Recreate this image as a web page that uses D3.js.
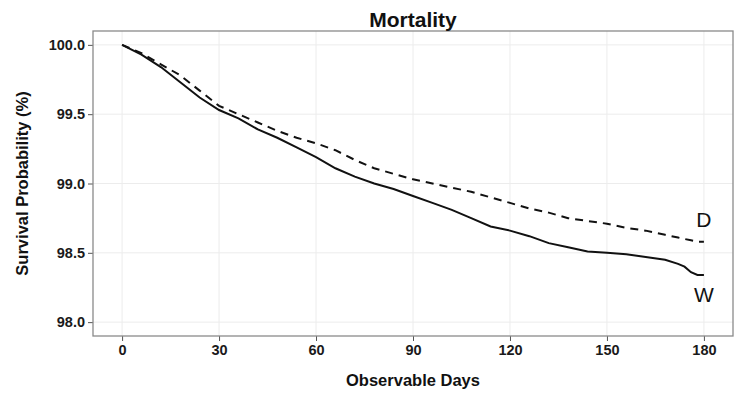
<!DOCTYPE html>
<html>
<head>
<meta charset="utf-8">
<script src="https://cdn.jsdelivr.net/npm/d3@7"></script>
<style>
  body { margin: 0; background: #fff; }
  svg { display: block; font-family: "Liberation Sans", Arial, sans-serif; }
</style>
</head>
<body>
<svg width="734" height="393"></svg>
<script>
// data
var days = [0, 6, 12, 18, 24, 30, 36, 42, 48, 54, 60, 66, 72, 78, 84, 90, 96, 102, 108,
            114, 120, 126, 132, 138, 144, 150, 156, 162, 168, 172, 174, 176, 178, 180];
var survW = [100.00, 99.93, 99.84, 99.73, 99.62, 99.53, 99.47, 99.39, 99.33, 99.26, 99.19,
             99.11, 99.05, 99.00, 98.96, 98.91, 98.86, 98.81, 98.75, 98.69, 98.66, 98.62,
             98.57, 98.54, 98.51, 98.50, 98.49, 98.47, 98.45, 98.42, 98.40, 98.36, 98.34, 98.34];
var survD = [100.00, 99.94, 99.86, 99.78, 99.67, 99.56, 99.50, 99.44, 99.38, 99.33, 99.29,
             99.24, 99.17, 99.11, 99.07, 99.03, 99.00, 98.97, 98.94, 98.90, 98.86, 98.82,
             98.79, 98.75, 98.73, 98.71, 98.68, 98.66, 98.63, 98.61, 98.60, 98.59, 98.58, 98.58];
var xTicks = [0, 30, 60, 90, 120, 150, 180];
var yTicks = [98.0, 98.5, 99.0, 99.5, 100.0];

var svg = d3.select("svg");
var margin = {top: 31, right: 1, bottom: 57, left: 93};
var width = +svg.attr("width") - margin.left - margin.right;
var height = +svg.attr("height") - margin.top - margin.bottom;

var g = svg.append("g")
  .attr("transform", "translate(" + margin.left + "," + margin.top + ")");

var x = d3.scaleLinear().domain([-9, 189]).range([0, width]);
var y = d3.scaleLinear().domain([97.9, 100.1]).range([height, 0]);

// grid
g.selectAll(".vgrid").data(xTicks).enter().append("line")
  .attr("x1", function(d) { return x(d); }).attr("x2", function(d) { return x(d); })
  .attr("y1", 0).attr("y2", height)
  .style("stroke", "#ececec").style("stroke-width", 1);
g.selectAll(".hgrid").data(yTicks).enter().append("line")
  .attr("y1", function(d) { return y(d); }).attr("y2", function(d) { return y(d); })
  .attr("x1", 0).attr("x2", width)
  .style("stroke", "#ececec").style("stroke-width", 1);

// axes
var xAxis = g.append("g")
  .attr("transform", "translate(0," + height + ")")
  .call(d3.axisBottom(x).tickValues(xTicks).tickSize(5).tickPadding(4).tickFormat(d3.format("d")));
var yAxis = g.append("g")
  .call(d3.axisLeft(y).tickValues(yTicks).tickSize(5).tickPadding(3).tickFormat(d3.format(".1f")));

[xAxis, yAxis].forEach(function(a) {
  a.select(".domain").remove();
  a.selectAll(".tick line").style("stroke", "#555");
  a.selectAll(".tick text")
    .style("font-size", "14.5px").style("font-weight", "bold")
    .style("fill", "#1a1a1a").style("font-family", "'Liberation Sans', Arial, sans-serif");
});

// panel border
g.append("rect")
  .attr("width", width).attr("height", height)
  .style("fill", "none").style("stroke", "#8a8a8a").style("stroke-width", 1.3);

var line = function(vals) {
  return d3.line()
    .x(function(d, i) { return x(days[i]); })
    .y(function(d) { return y(d); })(vals);
};

g.append("path")
  .attr("d", line(survD))
  .style("fill", "none").style("stroke", "#111").style("stroke-width", 2)
  .style("stroke-dasharray", "8,6");

g.append("path")
  .attr("d", line(survW))
  .style("fill", "none").style("stroke", "#111").style("stroke-width", 2);

// series labels
g.append("text")
  .attr("x", x(180)).attr("y", y(survD[survD.length - 1]) - 15)
  .attr("text-anchor", "middle")
  .style("font-size", "21px").style("fill", "#111")
  .text("D");
g.append("text")
  .attr("x", x(180)).attr("y", y(survW[survW.length - 1]) + 27)
  .attr("text-anchor", "middle")
  .style("font-size", "21px").style("fill", "#111")
  .text("W");

// titles
svg.append("text")
  .attr("x", margin.left + width / 2).attr("y", 27)
  .attr("text-anchor", "middle")
  .style("font-size", "21px").style("font-weight", "bold").style("fill", "#111")
  .text("Mortality");

svg.append("text")
  .attr("x", margin.left + width / 2).attr("y", 386)
  .attr("text-anchor", "middle")
  .style("font-size", "16.5px").style("font-weight", "bold").style("fill", "#111")
  .text("Observable Days");

svg.append("text")
  .attr("transform", "translate(28," + (margin.top + height / 2) + ") rotate(-90)")
  .attr("text-anchor", "middle")
  .style("font-size", "16.5px").style("font-weight", "bold").style("fill", "#111")
  .text("Survival Probability (%)");
</script>
</body>
</html>
